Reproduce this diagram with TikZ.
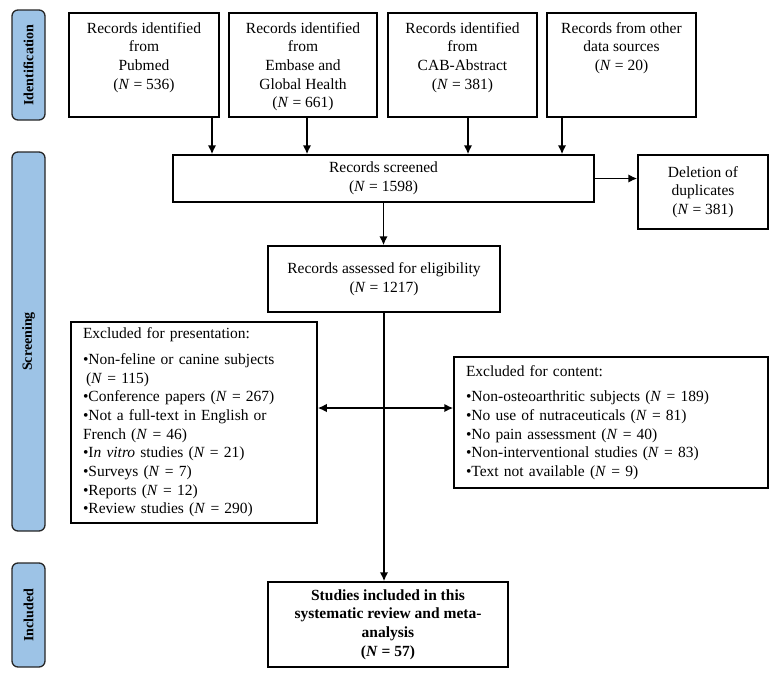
\documentclass[tikz,border=0pt]{standalone}
\usepackage{fontspec}
\setmainfont{Liberation Serif}
\usetikzlibrary{arrows.meta}
\definecolor{sidefill}{HTML}{9DC3E6}
\begin{document}
\begin{tikzpicture}[x=1pt,y=-1pt,
  box/.style={draw=black, line width=1.5pt, inner sep=0pt},
  txtfont/.style={font=\fontsize{15.5}{18.7}\selectfont},
  txt/.style={txtfont, align=center, inner sep=0pt},
  side/.style={draw=black!85, line width=1.3pt, fill=sidefill, rounded corners=6pt,
    minimum height=33pt, inner sep=0pt, rotate=90, font=\fontsize{14}{16}\selectfont\bfseries},
  arr/.style={line width=1.6pt, -{Latex[length=9pt,width=8.5pt]}},
  darr/.style={line width=1.6pt, {Latex[length=9pt,width=8.5pt]}-{Latex[length=9pt,width=8.5pt]}}
]
\useasboundingbox (0,0) rectangle (779,675);

% side labels
\node[side, minimum width=110pt] (idl) at (28.5,65) {Identification};
\node[side, minimum width=379pt] (scl) at (28.5,341.5) {Screening};
\node[side, minimum width=104pt] (inl) at (28.5,615) {Included};

% top boxes
\node[box, minimum width=150pt, minimum height=104pt] (b1) at (144,65) {};
\node[txt, anchor=north] (t1) at (144,22) {Records identified\\from\\Pubmed\\(\textit{N} = 536)};
\node[box, minimum width=148pt, minimum height=104pt] (b2) at (303,65) {};
\node[txt, anchor=north] (t2) at (303,22) {Records identified\\from\\Embase and\\Global Health\\(\textit{N} = 661)};
\node[box, minimum width=149pt, minimum height=104pt] (b3) at (462.5,65) {};
\node[txt, anchor=north] (t3) at (462.5,22) {Records identified\\from\\CAB-Abstract\\(\textit{N} = 381)};
\node[box, minimum width=149pt, minimum height=104pt] (b4) at (621.5,65) {};
\node[txt, anchor=north] (t4) at (621.5,22) {Records from other\\data sources\\(\textit{N} = 20)};

% screened and duplicates
\node[box, txt, minimum width=421pt, minimum height=47pt] (scr) at (383.5,178.5) {Records screened\\(\textit{N} = 1598)};
\node[box, txt, minimum width=130pt, minimum height=74pt] (del) at (703,192) {Deletion of\\duplicates\\(\textit{N} = 381)};

% eligibility
\node[box, txt, minimum width=232pt, minimum height=66pt] (elig) at (384,279) {Records assessed for eligibility\\(\textit{N} = 1217)};

% exclusion boxes
\node[box, txtfont, align=left, text width=222pt, inner xsep=12pt, minimum height=201pt] (pres) at (194,422.5)
 {Excluded for presentation:\\[7pt]
  •Non-feline or canine subjects\\
  \hspace*{3pt}(\textit{N} = 115)\\
  •Conference papers (\textit{N} = 267)\\
  •Not a full-text in English or\\
  French (\textit{N} = 46)\\
  •I\textit{n vitro} studies (\textit{N} = 21)\\
  •Surveys (\textit{N} = 7)\\
  •Reports (\textit{N} = 12)\\
  •Review studies (\textit{N} = 290)};
\node[box, txtfont, align=left, text width=290pt, inner xsep=12pt, minimum height=131pt] (cont) at (611,422.5)
 {Excluded for content:\\[7pt]
  •Non-osteoarthritic subjects (\textit{N} = 189)\\
  •No use of nutraceuticals (\textit{N} = 81)\\
  •No pain assessment (\textit{N} = 40)\\
  •Non-interventional studies (\textit{N} = 83)\\
  •Text not available (\textit{N} = 9)};

% included
\node[box, txt, font=\fontsize{15.5}{18.7}\selectfont\bfseries, minimum width=240pt, minimum height=85pt] (fin) at (388,624.5)
 {Studies included in this\\systematic review and meta-\\analysis\\(\textit{N} = 57)};

% connectors
\draw[arr] ([xshift=68pt]b1.south) -- ([xshift=68pt]b1.south |- scr.north);
\draw[arr] ([xshift=4pt]b2.south) -- ([xshift=4pt]b2.south |- scr.north);
\draw[arr] ([xshift=5.5pt]b3.south) -- ([xshift=5.5pt]b3.south |- scr.north);
\draw[arr] ([xshift=-59.5pt]b4.south) -- ([xshift=-59.5pt]b4.south |- scr.north);
\draw[arr] (scr.east) -- (del.west |- scr.east);
\draw[arr] (scr.south) -- (scr.south |- elig.north);
\draw[arr] (elig.south) -- (elig.south |- fin.north);
\draw[darr] ([yshift=14.5pt]pres.east) -- ([yshift=14.5pt]pres.east -| cont.west);
\end{tikzpicture}
\end{document}
